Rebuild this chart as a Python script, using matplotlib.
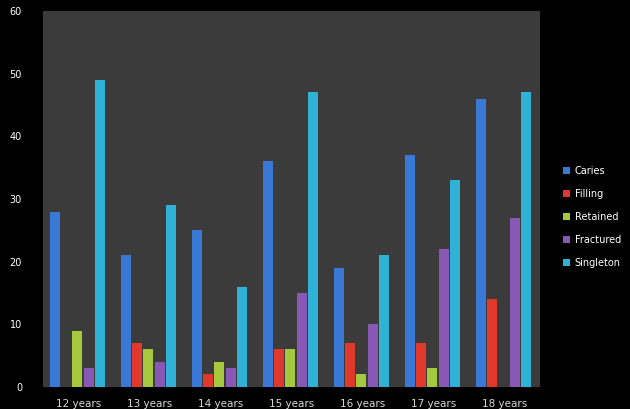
import matplotlib.pyplot as plt
import numpy as np

ages = ["12 years", "13 years", "14 years", "15 years", "16 years", "17 years", "18 years"]
series_names = ["Caries", "Filling", "Retained", "Fractured", "Singleton"]

caries = [28, 21, 25, 36, 19, 37, 46]
filling = [0, 7, 2, 6, 7, 7, 14]
retained = [9, 6, 4, 6, 2, 3, 0]
fractured = [3, 4, 3, 15, 10, 22, 27]
singleton = [49, 29, 16, 47, 21, 33, 47]

colors = ["#3a78d6", "#e0392b", "#a6c83c", "#8858b4", "#2fb2d6"]

fig = plt.figure(figsize=(6.3, 4.09), dpi=100, facecolor="black")
ax = fig.add_axes([0.068, 0.054, 0.789, 0.919])
ax.set_facecolor("#3b3b3b")

x = np.arange(len(ages))
step = 0.16
width = 0.14
all_series = [caries, filling, retained, fractured, singleton]
for i, (name, vals) in enumerate(zip(series_names, all_series)):
    offs = (i - 2) * step - 0.015
    ax.bar(x + offs, vals, width, color=colors[i], label=name, zorder=2)

ax.set_xlim(-0.5, len(ages) - 0.5)
ax.set_ylim(0, 60)
ax.set_yticks(range(0, 61, 10))
ax.set_xticks(x)
ax.set_xticklabels(ages, color="#d8d8d8", fontsize=7.5)
ax.tick_params(axis="y", colors="white", labelsize=7, length=0, pad=15)
ax.tick_params(axis="x", length=0, pad=9)
for s in ax.spines.values():
    s.set_visible(False)

leg = fig.legend(loc="center left", bbox_to_anchor=(0.88, 0.47), frameon=False,
                 fontsize=7, labelcolor="white", handlelength=0.7, handleheight=0.7,
                 labelspacing=1.35, handletextpad=0.5)

fig.savefig("out.png", dpi=100, facecolor="black")
